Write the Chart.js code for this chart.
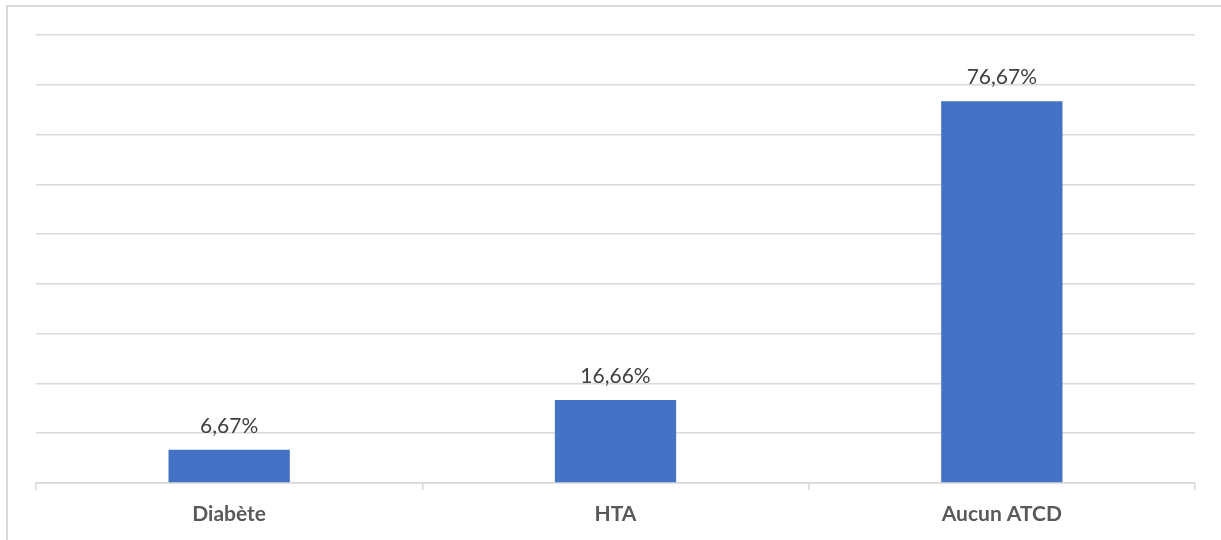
<!DOCTYPE html>
<html>
<head>
<meta charset="utf-8">
<script src="https://cdn.jsdelivr.net/npm/chart.js@4/dist/chart.umd.min.js"></script>
<style>
  html, body { margin: 0; padding: 0; background: #fff; overflow: hidden; }
  #wrap { position: relative; width: 1221px; height: 540px; }
  #cadre { position: absolute; left: 6px; top: 5px; width: 3000px; height: 3000px;
           border: 2px solid #d9d9d9; box-sizing: border-box; }
  #chartAtcd { position: absolute; left: 0; top: 0; }
</style>
</head>
<body>
<div id="wrap">
  <div id="cadre"></div>
  <canvas id="chartAtcd" width="1221" height="540"></canvas>
</div>
<script>
// ===============================
// DONNÉES
// ===============================
const categories = ["Diabète", "HTA", "Aucun ATCD"];
const pourcentages = [6.67, 16.66, 76.67];
const yMax = 90;
const yPas = 10;

const fmt = (v) => v.toFixed(2).replace(".", ",") + "%";

// ===============================
// ÉTIQUETTES DE VALEUR
// ===============================
const etiquettes = {
    id: "etiquettes",
    afterDatasetsDraw(chart) {
        const ctx = chart.ctx;
        const meta = chart.getDatasetMeta(0);
        ctx.save();
        ctx.font = "21px Lato";
        ctx.fillStyle = "#404040";
        ctx.textAlign = "center";
        ctx.textBaseline = "alphabetic";
        meta.data.forEach((bar, i) => {
            ctx.fillText(fmt(pourcentages[i]), bar.x, bar.y - 17);
        });
        ctx.restore();
    }
};

// ===============================
// BARRES
// ===============================
new Chart(document.getElementById("chartAtcd"), {
    type: "bar",
    data: {
        labels: categories,
        datasets: [{
            data: pourcentages,
            backgroundColor: "#4472c4",
            categoryPercentage: 1,
            barPercentage: 0.314
        }]
    },
    options: {
        responsive: false,
        animation: false,
        layout: { padding: { left: 36, right: 26, top: 35, bottom: 0 } },
        plugins: { legend: { display: false }, tooltip: { enabled: false } },
        scales: {
            x: {
                grid: { offset: true, drawOnChartArea: false, color: "#d9d9d9", lineWidth: 1.5, tickLength: 7 },
                border: { color: "#d9d9d9", width: 1.5 },
                ticks: { color: "#595959", font: { family: "Lato", size: 21, weight: "bold" }, padding: 12 },
                afterFit: (s) => { s.height = 57; }
            },
            y: {
                min: 0,
                max: yMax,
                ticks: { display: false, stepSize: yPas },
                grid: { color: "#d9d9d9", lineWidth: 1.5, drawTicks: false },
                border: { display: false },
                afterFit: (s) => { s.width = 0; }
            }
        }
    },
    plugins: [etiquettes]
});
</script>
</body>
</html>
